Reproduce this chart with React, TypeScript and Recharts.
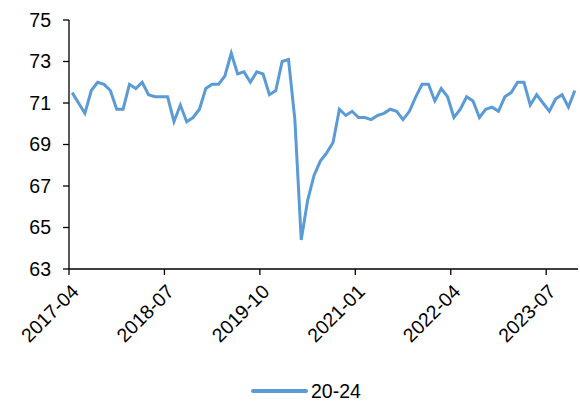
import React from 'react'
import { LineChart, Line, XAxis, YAxis, Legend } from 'recharts'

// monthly values, 2017-04 .. 2023-11
const startYear = 2017
const startMonth = 4
const rate2024 = [
  71.5, 71.0, 70.5, 71.6, 72.0, 71.9, 71.6, 70.7, 70.7, 71.9,
  71.7, 72.0, 71.4, 71.3, 71.3, 71.3, 70.1, 70.9, 70.1, 70.3,
  70.7, 71.7, 71.9, 71.9, 72.3, 73.4, 72.4, 72.5, 72.0, 72.5,
  72.4, 71.4, 71.6, 73.0, 73.1, 70.2, 64.4, 66.3, 67.5, 68.2,
  68.6, 69.1, 70.7, 70.4, 70.6, 70.3, 70.3, 70.2, 70.4, 70.5,
  70.7, 70.6, 70.2, 70.6, 71.3, 71.9, 71.9, 71.1, 71.7, 71.3,
  70.3, 70.7, 71.3, 71.1, 70.3, 70.7, 70.8, 70.6, 71.3, 71.5,
  72.0, 72.0, 70.9, 71.4, 71.0, 70.6, 71.2, 71.4, 70.8, 71.6,
]
const xTickPos = [0, 15, 30, 45, 60, 75]
const xTickLabels = ['2017-04', '2018-07', '2019-10', '2021-01', '2022-04', '2023-07']
const yTicks = [63, 65, 67, 69, 71, 73, 75]

const monthLabel = (i: number) => {
  const m = startMonth - 1 + i
  const y = startYear + Math.floor(m / 12)
  return `${y}-${String((m % 12) + 1).padStart(2, '0')}`
}

// points sit in the middle of each month slot, ticks on the boundaries
const data = rate2024.map((v, i) => ({ x: i + 0.5, month: monthLabel(i), value: v }))

const FONT = '"Liberation Sans", Arial, sans-serif'
const FS = 19.5

const XTick = ({ x, y, payload }: any) => {
  const idx = xTickPos.indexOf(payload.value)
  return (
    <g transform={`translate(${x + 6},${y + 11})`}>
      <text x={0} y={0} dy="0.35em" textAnchor="end" transform="rotate(-45)"
        fontSize={FS} fontFamily={FONT} fill="#000">
        {xTickLabels[idx]}
      </text>
    </g>
  )
}

const LegendContent = () => (
  <div style={{ height: 24, display: 'flex', alignItems: 'center', paddingLeft: 250,
    fontFamily: FONT, fontSize: FS, color: '#000' }}>
    <svg width={58} height={10}>
      <line x1={3} y1={5} x2={56} y2={5} stroke="#5B9BD5" strokeWidth={4} strokeLinecap="round" />
    </svg>
    <span style={{ marginLeft: 3 }}>20-24</span>
  </div>
)

export default function App() {
  return (
    <div style={{ position: 'absolute', left: 0, top: 0, background: '#fff' }}>
      <LineChart width={580} height={403} data={data}
        margin={{ top: 20, right: 2, left: 0, bottom: 0 }}>
        <XAxis dataKey="x" type="number" domain={[0, 80]} ticks={xTickPos}
          interval={0} height={110} tickSize={6} tickMargin={2}
          axisLine={{ stroke: '#000', strokeWidth: 1.3 }}
          tickLine={{ stroke: '#000', strokeWidth: 1.3 }}
          tick={<XTick />} />
        <YAxis type="number" domain={[63, 75]} ticks={yTicks} interval={0}
          width={69} tickSize={6} tickMargin={12}
          axisLine={{ stroke: '#000', strokeWidth: 1.3 }}
          tickLine={{ stroke: '#000', strokeWidth: 1.3 }}
          tick={{ fontSize: FS, fontFamily: FONT, fill: '#000' }} />
        <Legend verticalAlign="bottom" content={<LegendContent />} />
        <Line type="linear" dataKey="value" name="20-24" stroke="#5B9BD5"
          strokeWidth={3} dot={false} isAnimationActive={false} />
      </LineChart>
    </div>
  )
}
